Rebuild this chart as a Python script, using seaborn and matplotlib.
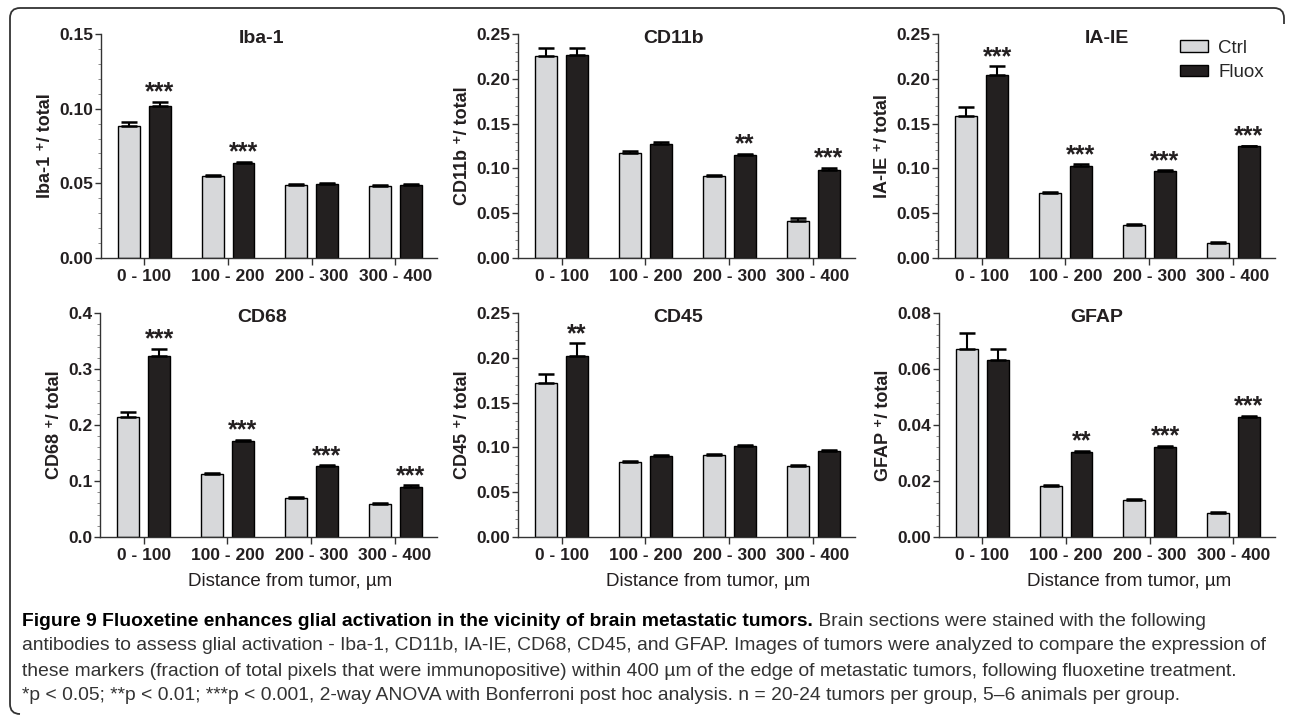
import numpy as np
import pandas as pd
import matplotlib
matplotlib.use('Agg')
import matplotlib.pyplot as plt
import seaborn as sns
from matplotlib import font_manager
from matplotlib.patches import Patch, PathPatch
from matplotlib.path import Path
from matplotlib.ticker import MultipleLocator, AutoMinorLocator, FormatStrFormatter

# ── Data ─────────────────────────────────────────────────────────
distances = ['0 - 100', '100 - 200', '200 - 300', '300 - 400']
groups = ['Ctrl', 'Fluox']

iba1_ctrl      = [0.0883, 0.0547, 0.0490, 0.0480]
iba1_fluox     = [0.1015, 0.0639, 0.0495, 0.0490]
iba1_ctrl_sem  = [0.0027, 0.0006, 0.0005, 0.0008]
iba1_fluox_sem = [0.0030, 0.0006, 0.0004, 0.0004]
iba1_sig       = ['***', '***', '', '']

cd11b_ctrl      = [0.2258, 0.1168, 0.0915, 0.0413]
cd11b_fluox     = [0.2266, 0.1272, 0.1150, 0.0982]
cd11b_ctrl_sem  = [0.0086, 0.0022, 0.0015, 0.0033]
cd11b_fluox_sem = [0.0078, 0.0018, 0.0015, 0.0023]
cd11b_sig       = ['', '', '**', '***']

iaie_ctrl      = [0.1590, 0.0721, 0.0364, 0.0163]
iaie_fluox     = [0.2038, 0.1030, 0.0971, 0.1246]
iaie_ctrl_sem  = [0.0090, 0.0019, 0.0011, 0.0012]
iaie_fluox_sem = [0.0101, 0.0015, 0.0009, 0.0009]
iaie_sig       = ['***', '***', '***', '***']

cd68_ctrl      = [0.2140, 0.1132, 0.0698, 0.0596]
cd68_fluox     = [0.3238, 0.1717, 0.1270, 0.0900]
cd68_ctrl_sem  = [0.0100, 0.0018, 0.0022, 0.0014]
cd68_fluox_sem = [0.0119, 0.0023, 0.0010, 0.0020]
cd68_sig       = ['***', '***', '***', '***']

cd45_ctrl      = [0.1717, 0.0841, 0.0913, 0.0790]
cd45_fluox     = [0.2022, 0.0901, 0.1020, 0.0964]
cd45_ctrl_sem  = [0.0101, 0.0009, 0.0012, 0.0015]
cd45_fluox_sem = [0.0138, 0.0009, 0.0005, 0.0011]
cd45_sig       = ['**', '', '', '']

gfap_ctrl      = [0.0672, 0.01835, 0.01335, 0.0086]
gfap_fluox     = [0.0632, 0.0304, 0.0321, 0.0428]
gfap_ctrl_sem  = [0.0056, 0.0003, 0.0004, 0.0003]
gfap_fluox_sem = [0.0040, 0.0004, 0.0005, 0.0005]
gfap_sig       = ['', '**', '***', '***']

caption_bold = 'Figure 9 Fluoxetine enhances glial activation in the vicinity of brain metastatic tumors.'
caption_lines = [
    ' Brain sections were stained with the following',
    'antibodies to assess glial activation - Iba-1, CD11b, IA-IE, CD68, CD45, and GFAP. Images of tumors were analyzed to compare the expression of',
    'these markers (fraction of total pixels that were immunopositive) within 400 µm of the edge of metastatic tumors, following fluoxetine treatment.',
    '*p < 0.05; **p < 0.01; ***p < 0.001, 2-way ANOVA with Bonferroni post hoc analysis. n = 20-24 tumors per group, 5–6 animals per group.',
]

# ── Panel setup ─────────────────────────────────────────────────
panels = [
    ('Iba-1', 'Iba-1 ⁺/ total', iba1_ctrl, iba1_fluox, iba1_ctrl_sem, iba1_fluox_sem, iba1_sig, 0.15, 0.05, '%.2f'),
    ('CD11b', 'CD11b ⁺/ total', cd11b_ctrl, cd11b_fluox, cd11b_ctrl_sem, cd11b_fluox_sem, cd11b_sig, 0.25, 0.05, '%.2f'),
    ('IA-IE', 'IA-IE ⁺/ total', iaie_ctrl, iaie_fluox, iaie_ctrl_sem, iaie_fluox_sem, iaie_sig, 0.25, 0.05, '%.2f'),
    ('CD68', 'CD68 ⁺/ total', cd68_ctrl, cd68_fluox, cd68_ctrl_sem, cd68_fluox_sem, cd68_sig, 0.4, 0.1, '%.1f'),
    ('CD45', 'CD45 ⁺/ total', cd45_ctrl, cd45_fluox, cd45_ctrl_sem, cd45_fluox_sem, cd45_sig, 0.25, 0.05, '%.2f'),
    ('GFAP', 'GFAP ⁺/ total', gfap_ctrl, gfap_fluox, gfap_ctrl_sem, gfap_fluox_sem, gfap_sig, 0.08, 0.02, '%.2f'),
]

W, H = 1292, 717
# axes boxes in pixels: left, top, right, bottom
boxes = [
    (101, 34, 437, 258), (518, 34, 855, 258), (938, 34, 1275, 258),
    (100, 313, 437, 537), (518, 313, 855, 537), (939, 313, 1275, 537),
]
title_x = [0.478, 0.46, 0.50, 0.482, 0.475, 0.47]

CTRL_COLOR = '#d7d8da'
FLUOX_COLOR = '#231f20'
INK = '#231f20'

sns.set_style('ticks')
plt.rcParams['font.family'] = ['Liberation Sans', 'DejaVu Sans']
plt.rcParams['axes.edgecolor'] = '#333333'
plt.rcParams['axes.linewidth'] = 1.0

fig = plt.figure(figsize=(W / 100, H / 100), dpi=100)

for i, (title, ylab, ctrl, fluox, ctrl_sem, fluox_sem, sig, ymax, ystep, fmt) in enumerate(panels):
    l, t, r, b = boxes[i]
    ax = fig.add_axes([l / W, 1 - b / H, (r - l) / W, (b - t) / H])

    df = pd.DataFrame({
        'distance': distances * 2,
        'group': ['Ctrl'] * 4 + ['Fluox'] * 4,
        'value': list(ctrl) + list(fluox),
    })
    sns.barplot(data=df, x='distance', y='value', hue='group',
                order=distances, hue_order=groups,
                palette={'Ctrl': CTRL_COLOR, 'Fluox': FLUOX_COLOR},
                width=0.74, gap=0.29, errorbar=None,
                edgecolor='black', linewidth=1.0, legend=False, ax=ax)

    # upward-only SEM bars
    for cont, sem in zip(ax.containers, [ctrl_sem, fluox_sem]):
        xs = [p.get_x() + p.get_width() / 2 for p in cont]
        ys = [p.get_height() for p in cont]
        ax.errorbar(xs, ys, yerr=[np.zeros(len(sem)), sem], fmt='none',
                    ecolor='black', elinewidth=1.5, capsize=5.8, capthick=1.8, zorder=3)

    # significance stars over the Fluox bars
    fl = ax.containers[1]
    for p, s, e in zip(fl, sig, fluox_sem):
        if s:
            ax.annotate(s, xy=(p.get_x() + p.get_width() / 2, p.get_height() + e),
                        xytext=(0, -2), textcoords='offset points',
                        ha='center', va='bottom', fontsize=18, fontweight='bold', color=INK)

    ax.set_xlim(-0.52, 3.5)
    ax.set_ylim(0, ymax)
    ax.yaxis.set_major_locator(MultipleLocator(ystep))
    ax.yaxis.set_minor_locator(AutoMinorLocator(5))
    ax.yaxis.set_major_formatter(FormatStrFormatter(fmt))
    sns.despine(ax=ax)
    ax.tick_params(axis='y', which='major', length=4, width=1.0, pad=1.5, labelsize=12.5, colors='#333333', labelcolor=INK)
    ax.tick_params(axis='y', which='minor', length=2, width=0.6, colors='#777777')
    ax.tick_params(axis='x', which='major', length=5, width=1.0, pad=3, labelsize=12.5, colors='#333333', labelcolor=INK)
    for lab in ax.get_xticklabels() + ax.get_yticklabels():
        lab.set_fontweight('bold')

    ax.set_ylabel(ylab, fontsize=13, fontweight='bold', color=INK, labelpad=4)
    ax.text(title_x[i], 0.978, title, transform=ax.transAxes, ha='center', va='center',
            fontsize=14, fontweight='bold', color=INK)

    if i >= 3:
        ax.set_xlabel('Distance from tumor, µm', fontsize=13.5, color=INK)
        ax.xaxis.set_label_coords(0.565, -0.16)
    else:
        ax.set_xlabel('')

    if title == 'IA-IE':
        handles = [Patch(facecolor=CTRL_COLOR, edgecolor='black', linewidth=1.0, label='Ctrl'),
                   Patch(facecolor=FLUOX_COLOR, edgecolor='black', linewidth=1.0, label='Fluox')]
        ax.legend(handles=handles, loc='upper left', bbox_to_anchor=(0.718, 0.975),
                  frameon=False, fontsize=13.5, handlelength=1.5, handleheight=0.6,
                  handletextpad=0.55, labelspacing=0.4, borderpad=0, borderaxespad=0)

# ── Caption ─────────────────────────────────────────────────────
names = {f.name for f in font_manager.fontManager.ttflist}
cap_family = ['Liberation Sans Narrow', 'DejaVu Sans'] if 'Liberation Sans Narrow' in names \
    else ['Liberation Sans', 'DejaVu Sans']
cap_y = [621, 646, 671, 695]
cap_right = [None, 1268, 1276, 1222]     # right end of each full line in the figure
cap_size = 12
t0 = fig.text(22 / W, 1 - cap_y[0] / H, caption_bold, fontsize=cap_size, fontweight='bold',
              va='center', ha='left', color='black', family=cap_family)
t1 = fig.text(0.5, 1 - cap_y[0] / H, caption_lines[0], fontsize=cap_size, va='center', ha='left',
              color='#333333', family=cap_family)
cap_texts = [t0, t1]
for line, y in zip(caption_lines[1:], cap_y[1:]):
    cap_texts.append(fig.text(22 / W, 1 - y / H, line, fontsize=cap_size, va='center', ha='left',
                              color='#333333', family=cap_family))

# pick one font size so that no line runs past its width in the figure
fig.canvas.draw()
rend = fig.canvas.get_renderer()
scales = []
for tx, right in zip(cap_texts[2:], cap_right[1:]):
    scales.append((right - 22) / tx.get_window_extent(rend).width)
scale = min(scales)
for tx in cap_texts:
    tx.set_fontsize(cap_size * scale)
fig.canvas.draw()
bb = t0.get_window_extent(rend)
t1.set_position((bb.x1 / W, 1 - cap_y[0] / H))

# rounded frame round the figure (open on the right, like the journal page)
pts = [(20, 714), (10, 714), (10, 704), (10, 18), (10, 8), (20, 8),
       (1274, 8), (1284, 8), (1284, 18), (1284, 24)]
codes = [Path.MOVETO, Path.CURVE3, Path.CURVE3, Path.LINETO, Path.CURVE3, Path.CURVE3,
         Path.LINETO, Path.CURVE3, Path.CURVE3, Path.LINETO]
verts = [(x / W, 1 - y / H) for x, y in pts]
fig.add_artist(PathPatch(Path(verts, codes), transform=fig.transFigure, fill=False,
                         edgecolor='#333333', linewidth=1.3))

fig.savefig('out.png', dpi=100)
